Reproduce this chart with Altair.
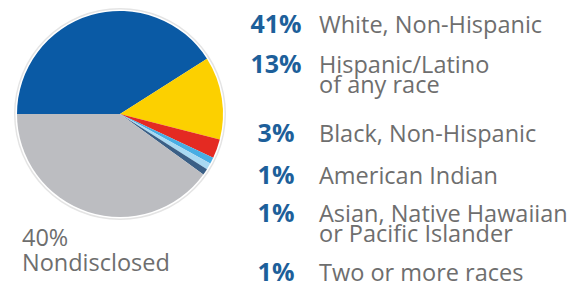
import math
import altair as alt
import pandas as pd

categories = ["White, Non-Hispanic", "Hispanic/Latino\nof any race", "Black, Non-Hispanic",
              "American Indian", "Asian, Native Hawaiian\nor Pacific Islander", "Two or more races",
              "Nondisclosed"]
shares = [41, 13, 3, 1, 1, 1, 40]
pct_labels = ["41%", "13%", "3%", "1%", "1%", "1%", "40%"]
colors = ["#0a5aa5", "#fcd000", "#e42a22", "#48ade3", "#a9d9f2", "#3a5f86", "#bcbdc1"]

df = pd.DataFrame({"cat": categories, "share": shares, "pct": pct_labels,
                   "idx": list(range(len(categories)))})
nd_df = df[df["cat"] == "Nondisclosed"]

CX, CY = 112, 105
start = 1.5 * math.pi

ring = alt.Chart(nd_df).mark_arc(radius=106, fill="#e4e4e4").encode(
    theta=alt.value(2 * math.pi), x=alt.value(CX), y=alt.value(CY))
inner = alt.Chart(nd_df).mark_arc(radius=104.5, fill="white").encode(
    theta=alt.value(2 * math.pi), x=alt.value(CX), y=alt.value(CY))

pie = alt.Chart(df).mark_arc(radius=103).encode(
    theta=alt.Theta("share:Q", stack=True,
                    scale=alt.Scale(range=[start, start + 2 * math.pi])),
    order=alt.Order("idx:O"),
    color=alt.Color("cat:N", scale=alt.Scale(domain=categories, range=colors), legend=None),
    x=alt.value(CX), y=alt.value(CY),
)

row_y = [24, 63.5, 133, 175, 212.5, 271.5]
FONT = "Open Sans"

layers = [ring, inner, pie]
for i, y in enumerate(row_y):
    base = alt.Chart(df).transform_filter(alt.datum.idx == i)
    layers.append(base.mark_text(
        align="center", baseline="alphabetic", font=FONT, fontSize=25, fontWeight=700,
        color="#1d5f9a").encode(x=alt.value(268), y=alt.value(y), text="pct:N"))
    layers.append(base.mark_text(
        align="left", baseline="alphabetic", font=FONT, fontSize=23.5, color="#6e6e6e",
        lineBreak="\n", lineHeight=20).encode(x=alt.value(311), y=alt.value(y), text="cat:N"))

nd_text = alt.Chart(nd_df).transform_calculate(
    t="[datum.pct, datum.cat]").mark_text(
    align="left", baseline="alphabetic", font=FONT, fontSize=23.5, color="#6e6e6e",
    lineHeight=25).encode(
    x=alt.value(14), y=alt.value(237), text="t:N")
layers.append(nd_text)

chart = alt.layer(*layers).properties(
    width=564, height=272, padding=0
).configure_view(stroke=None)

chart.save("out.html", embed_options={"renderer": "svg", "actions": False})
